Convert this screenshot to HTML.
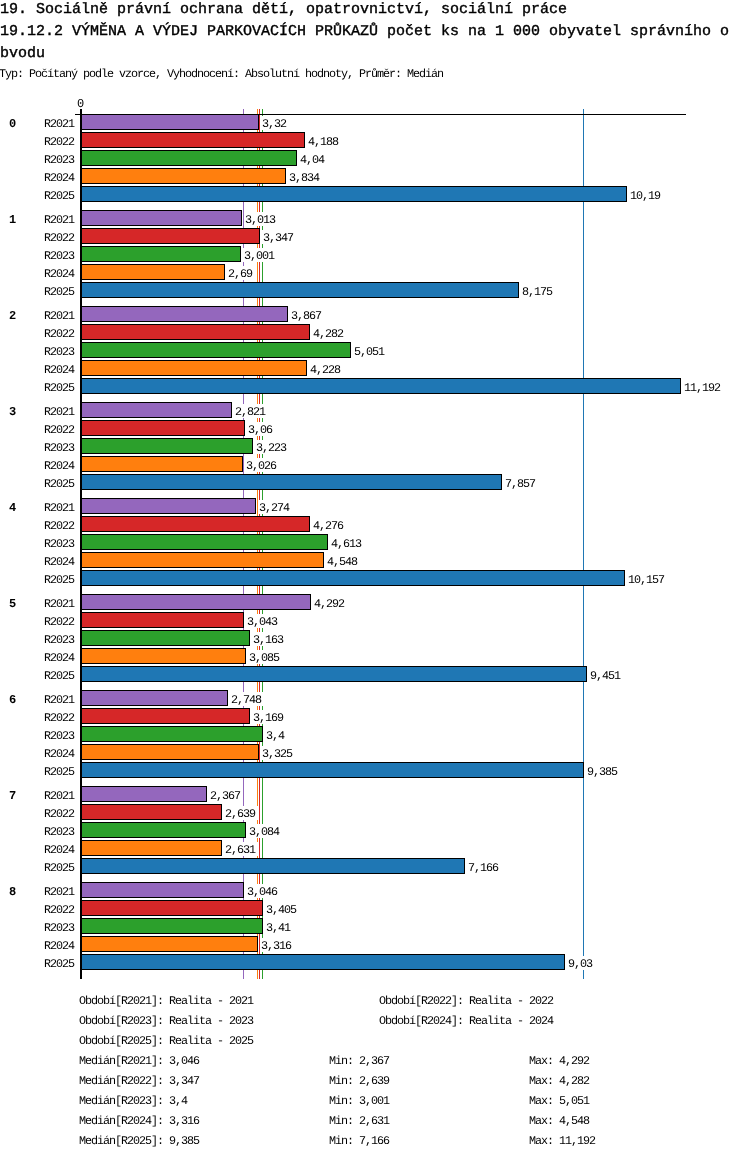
<!DOCTYPE html>
<html><head><meta charset="utf-8"><style>
html,body{margin:0;padding:0;background:#fff;text-rendering:geometricPrecision;}
body{width:750px;height:1158px;position:relative;overflow:hidden;}
.wrap{position:absolute;left:0;top:0;width:750px;height:1158px;will-change:transform;background:transparent;}
.title{position:absolute;left:0px;top:-1px;width:740px;white-space:nowrap;-webkit-text-stroke:0.4px #000;font:15px/22px "Liberation Mono",monospace;color:#000;word-break:break-all;}
.typ{position:absolute;left:-1px;top:68px;font:11.75px/12px "Liberation Mono",monospace;letter-spacing:-1.05px;color:#000;white-space:nowrap;}
svg{position:absolute;left:0;top:0;}
.g{position:absolute;left:9px;font:bold 12px/12px "Liberation Mono",monospace;}
.lab{position:absolute;left:44px;font:11.75px/12px "Liberation Mono",monospace;letter-spacing:-1.05px;white-space:nowrap;}
.val{position:absolute;background:#fff;font:11.75px/12px "Liberation Mono",monospace;letter-spacing:-1.05px;white-space:nowrap;}
.zero{position:absolute;left:77px;top:98px;font:12px/12px "Liberation Mono",monospace;}
.leg{position:absolute;font:11.75px/12px "Liberation Mono",monospace;letter-spacing:-1.05px;white-space:pre;}
</style></head><body><div class="wrap">
<div class="title">19. Sociálně právní ochrana dětí, opatrovnictví, sociální práce<br>19.12.2 VÝMĚNA A VÝDEJ PARKOVACÍCH PRŮKAZŮ počet ks na 1 000 obyvatel správního o<br>bvodu</div>
<div class="typ">Typ: Počítaný podle vzorce, Vyhodnocení: Absolutní hodnoty, Průměr: Medián</div>
<svg width="750" height="1158" shape-rendering="crispEdges"><rect x="243" y="109" width="1" height="870" fill="#9467bd"/><rect x="259" y="109" width="1" height="870" fill="#d62728"/><rect x="262" y="109" width="1" height="870" fill="#2ca02c"/><rect x="257" y="109" width="1" height="870" fill="#ff7f0e"/><rect x="583" y="109" width="1" height="870" fill="#1f77b4"/><rect x="75" y="114" width="611" height="1" fill="#000"/><rect x="80" y="114" width="179" height="16" fill="#000"/><rect x="81" y="115" width="177" height="14" fill="#9467bd"/><rect x="80" y="132" width="225" height="16" fill="#000"/><rect x="81" y="133" width="223" height="14" fill="#d62728"/><rect x="80" y="150" width="217" height="16" fill="#000"/><rect x="81" y="151" width="215" height="14" fill="#2ca02c"/><rect x="80" y="168" width="206" height="16" fill="#000"/><rect x="81" y="169" width="204" height="14" fill="#ff7f0e"/><rect x="80" y="186" width="547" height="16" fill="#000"/><rect x="81" y="187" width="545" height="14" fill="#1f77b4"/><rect x="80" y="210" width="162" height="16" fill="#000"/><rect x="81" y="211" width="160" height="14" fill="#9467bd"/><rect x="80" y="228" width="180" height="16" fill="#000"/><rect x="81" y="229" width="178" height="14" fill="#d62728"/><rect x="80" y="246" width="161" height="16" fill="#000"/><rect x="81" y="247" width="159" height="14" fill="#2ca02c"/><rect x="80" y="264" width="145" height="16" fill="#000"/><rect x="81" y="265" width="143" height="14" fill="#ff7f0e"/><rect x="80" y="282" width="439" height="16" fill="#000"/><rect x="81" y="283" width="437" height="14" fill="#1f77b4"/><rect x="80" y="306" width="208" height="16" fill="#000"/><rect x="81" y="307" width="206" height="14" fill="#9467bd"/><rect x="80" y="324" width="230" height="16" fill="#000"/><rect x="81" y="325" width="228" height="14" fill="#d62728"/><rect x="80" y="342" width="271" height="16" fill="#000"/><rect x="81" y="343" width="269" height="14" fill="#2ca02c"/><rect x="80" y="360" width="227" height="16" fill="#000"/><rect x="81" y="361" width="225" height="14" fill="#ff7f0e"/><rect x="80" y="378" width="601" height="16" fill="#000"/><rect x="81" y="379" width="599" height="14" fill="#1f77b4"/><rect x="80" y="402" width="152" height="16" fill="#000"/><rect x="81" y="403" width="150" height="14" fill="#9467bd"/><rect x="80" y="420" width="165" height="16" fill="#000"/><rect x="81" y="421" width="163" height="14" fill="#d62728"/><rect x="80" y="438" width="173" height="16" fill="#000"/><rect x="81" y="439" width="171" height="14" fill="#2ca02c"/><rect x="80" y="456" width="163" height="16" fill="#000"/><rect x="81" y="457" width="161" height="14" fill="#ff7f0e"/><rect x="80" y="474" width="422" height="16" fill="#000"/><rect x="81" y="475" width="420" height="14" fill="#1f77b4"/><rect x="80" y="498" width="176" height="16" fill="#000"/><rect x="81" y="499" width="174" height="14" fill="#9467bd"/><rect x="80" y="516" width="230" height="16" fill="#000"/><rect x="81" y="517" width="228" height="14" fill="#d62728"/><rect x="80" y="534" width="248" height="16" fill="#000"/><rect x="81" y="535" width="246" height="14" fill="#2ca02c"/><rect x="80" y="552" width="244" height="16" fill="#000"/><rect x="81" y="553" width="242" height="14" fill="#ff7f0e"/><rect x="80" y="570" width="545" height="16" fill="#000"/><rect x="81" y="571" width="543" height="14" fill="#1f77b4"/><rect x="80" y="594" width="231" height="16" fill="#000"/><rect x="81" y="595" width="229" height="14" fill="#9467bd"/><rect x="80" y="612" width="164" height="16" fill="#000"/><rect x="81" y="613" width="162" height="14" fill="#d62728"/><rect x="80" y="630" width="170" height="16" fill="#000"/><rect x="81" y="631" width="168" height="14" fill="#2ca02c"/><rect x="80" y="648" width="166" height="16" fill="#000"/><rect x="81" y="649" width="164" height="14" fill="#ff7f0e"/><rect x="80" y="666" width="507" height="16" fill="#000"/><rect x="81" y="667" width="505" height="14" fill="#1f77b4"/><rect x="80" y="690" width="148" height="16" fill="#000"/><rect x="81" y="691" width="146" height="14" fill="#9467bd"/><rect x="80" y="708" width="170" height="16" fill="#000"/><rect x="81" y="709" width="168" height="14" fill="#d62728"/><rect x="80" y="726" width="183" height="16" fill="#000"/><rect x="81" y="727" width="181" height="14" fill="#2ca02c"/><rect x="80" y="744" width="179" height="16" fill="#000"/><rect x="81" y="745" width="177" height="14" fill="#ff7f0e"/><rect x="80" y="762" width="504" height="16" fill="#000"/><rect x="81" y="763" width="502" height="14" fill="#1f77b4"/><rect x="80" y="786" width="127" height="16" fill="#000"/><rect x="81" y="787" width="125" height="14" fill="#9467bd"/><rect x="80" y="804" width="142" height="16" fill="#000"/><rect x="81" y="805" width="140" height="14" fill="#d62728"/><rect x="80" y="822" width="166" height="16" fill="#000"/><rect x="81" y="823" width="164" height="14" fill="#2ca02c"/><rect x="80" y="840" width="142" height="16" fill="#000"/><rect x="81" y="841" width="140" height="14" fill="#ff7f0e"/><rect x="80" y="858" width="385" height="16" fill="#000"/><rect x="81" y="859" width="383" height="14" fill="#1f77b4"/><rect x="80" y="882" width="164" height="16" fill="#000"/><rect x="81" y="883" width="162" height="14" fill="#9467bd"/><rect x="80" y="900" width="183" height="16" fill="#000"/><rect x="81" y="901" width="181" height="14" fill="#d62728"/><rect x="80" y="918" width="183" height="16" fill="#000"/><rect x="81" y="919" width="181" height="14" fill="#2ca02c"/><rect x="80" y="936" width="178" height="16" fill="#000"/><rect x="81" y="937" width="176" height="14" fill="#ff7f0e"/><rect x="80" y="954" width="485" height="16" fill="#000"/><rect x="81" y="955" width="483" height="14" fill="#1f77b4"/><rect x="80" y="109" width="2" height="870" fill="#000"/></svg>
<div class="zero">0</div>
<div class="g" style="top:118px">0</div><div class="lab" style="top:118px">R2021</div><div class="val" style="top:116px;left:261px;padding:2px 3px 0 1px;height:12px">3,32</div><div class="lab" style="top:136px">R2022</div><div class="val" style="top:134px;left:307px;padding:2px 3px 0 1px;height:12px">4,188</div><div class="lab" style="top:154px">R2023</div><div class="val" style="top:152px;left:299px;padding:2px 3px 0 1px;height:12px">4,04</div><div class="lab" style="top:172px">R2024</div><div class="val" style="top:170px;left:288px;padding:2px 3px 0 1px;height:12px">3,834</div><div class="lab" style="top:190px">R2025</div><div class="val" style="top:188px;left:629px;padding:2px 3px 0 1px;height:12px">10,19</div><div class="g" style="top:214px">1</div><div class="lab" style="top:214px">R2021</div><div class="val" style="top:212px;left:244px;padding:2px 3px 0 1px;height:12px">3,013</div><div class="lab" style="top:232px">R2022</div><div class="val" style="top:230px;left:262px;padding:2px 3px 0 1px;height:12px">3,347</div><div class="lab" style="top:250px">R2023</div><div class="val" style="top:248px;left:243px;padding:2px 3px 0 1px;height:12px">3,001</div><div class="lab" style="top:268px">R2024</div><div class="val" style="top:266px;left:227px;padding:2px 3px 0 1px;height:12px">2,69</div><div class="lab" style="top:286px">R2025</div><div class="val" style="top:284px;left:521px;padding:2px 3px 0 1px;height:12px">8,175</div><div class="g" style="top:310px">2</div><div class="lab" style="top:310px">R2021</div><div class="val" style="top:308px;left:290px;padding:2px 3px 0 1px;height:12px">3,867</div><div class="lab" style="top:328px">R2022</div><div class="val" style="top:326px;left:312px;padding:2px 3px 0 1px;height:12px">4,282</div><div class="lab" style="top:346px">R2023</div><div class="val" style="top:344px;left:353px;padding:2px 3px 0 1px;height:12px">5,051</div><div class="lab" style="top:364px">R2024</div><div class="val" style="top:362px;left:309px;padding:2px 3px 0 1px;height:12px">4,228</div><div class="lab" style="top:382px">R2025</div><div class="val" style="top:380px;left:683px;padding:2px 3px 0 1px;height:12px">11,192</div><div class="g" style="top:406px">3</div><div class="lab" style="top:406px">R2021</div><div class="val" style="top:404px;left:234px;padding:2px 3px 0 1px;height:12px">2,821</div><div class="lab" style="top:424px">R2022</div><div class="val" style="top:422px;left:247px;padding:2px 3px 0 1px;height:12px">3,06</div><div class="lab" style="top:442px">R2023</div><div class="val" style="top:440px;left:255px;padding:2px 3px 0 1px;height:12px">3,223</div><div class="lab" style="top:460px">R2024</div><div class="val" style="top:458px;left:245px;padding:2px 3px 0 1px;height:12px">3,026</div><div class="lab" style="top:478px">R2025</div><div class="val" style="top:476px;left:504px;padding:2px 3px 0 1px;height:12px">7,857</div><div class="g" style="top:502px">4</div><div class="lab" style="top:502px">R2021</div><div class="val" style="top:500px;left:258px;padding:2px 3px 0 1px;height:12px">3,274</div><div class="lab" style="top:520px">R2022</div><div class="val" style="top:518px;left:312px;padding:2px 3px 0 1px;height:12px">4,276</div><div class="lab" style="top:538px">R2023</div><div class="val" style="top:536px;left:330px;padding:2px 3px 0 1px;height:12px">4,613</div><div class="lab" style="top:556px">R2024</div><div class="val" style="top:554px;left:326px;padding:2px 3px 0 1px;height:12px">4,548</div><div class="lab" style="top:574px">R2025</div><div class="val" style="top:572px;left:627px;padding:2px 3px 0 1px;height:12px">10,157</div><div class="g" style="top:598px">5</div><div class="lab" style="top:598px">R2021</div><div class="val" style="top:596px;left:313px;padding:2px 3px 0 1px;height:12px">4,292</div><div class="lab" style="top:616px">R2022</div><div class="val" style="top:614px;left:246px;padding:2px 3px 0 1px;height:12px">3,043</div><div class="lab" style="top:634px">R2023</div><div class="val" style="top:632px;left:252px;padding:2px 3px 0 1px;height:12px">3,163</div><div class="lab" style="top:652px">R2024</div><div class="val" style="top:650px;left:248px;padding:2px 3px 0 1px;height:12px">3,085</div><div class="lab" style="top:670px">R2025</div><div class="val" style="top:668px;left:589px;padding:2px 3px 0 1px;height:12px">9,451</div><div class="g" style="top:694px">6</div><div class="lab" style="top:694px">R2021</div><div class="val" style="top:692px;left:230px;padding:2px 3px 0 1px;height:12px">2,748</div><div class="lab" style="top:712px">R2022</div><div class="val" style="top:710px;left:252px;padding:2px 3px 0 1px;height:12px">3,169</div><div class="lab" style="top:730px">R2023</div><div class="val" style="top:728px;left:265px;padding:2px 3px 0 1px;height:12px">3,4</div><div class="lab" style="top:748px">R2024</div><div class="val" style="top:746px;left:261px;padding:2px 3px 0 1px;height:12px">3,325</div><div class="lab" style="top:766px">R2025</div><div class="val" style="top:764px;left:586px;padding:2px 3px 0 1px;height:12px">9,385</div><div class="g" style="top:790px">7</div><div class="lab" style="top:790px">R2021</div><div class="val" style="top:788px;left:209px;padding:2px 3px 0 1px;height:12px">2,367</div><div class="lab" style="top:808px">R2022</div><div class="val" style="top:806px;left:224px;padding:2px 3px 0 1px;height:12px">2,639</div><div class="lab" style="top:826px">R2023</div><div class="val" style="top:824px;left:248px;padding:2px 3px 0 1px;height:12px">3,084</div><div class="lab" style="top:844px">R2024</div><div class="val" style="top:842px;left:224px;padding:2px 3px 0 1px;height:12px">2,631</div><div class="lab" style="top:862px">R2025</div><div class="val" style="top:860px;left:467px;padding:2px 3px 0 1px;height:12px">7,166</div><div class="g" style="top:886px">8</div><div class="lab" style="top:886px">R2021</div><div class="val" style="top:884px;left:246px;padding:2px 3px 0 1px;height:12px">3,046</div><div class="lab" style="top:904px">R2022</div><div class="val" style="top:902px;left:265px;padding:2px 3px 0 1px;height:12px">3,405</div><div class="lab" style="top:922px">R2023</div><div class="val" style="top:920px;left:265px;padding:2px 3px 0 1px;height:12px">3,41</div><div class="lab" style="top:940px">R2024</div><div class="val" style="top:938px;left:260px;padding:2px 3px 0 1px;height:12px">3,316</div><div class="lab" style="top:958px">R2025</div><div class="val" style="top:956px;left:567px;padding:2px 3px 0 1px;height:12px">9,03</div>
<div class="leg" style="left:79px;top:995px">Období[R2021]: Realita - 2021</div><div class="leg" style="left:379px;top:995px">Období[R2022]: Realita - 2022</div><div class="leg" style="left:79px;top:1015px">Období[R2023]: Realita - 2023</div><div class="leg" style="left:379px;top:1015px">Období[R2024]: Realita - 2024</div><div class="leg" style="left:79px;top:1035px">Období[R2025]: Realita - 2025</div><div class="leg" style="left:79px;top:1055px">Medián[R2021]: 3,046</div><div class="leg" style="left:329px;top:1055px">Min: 2,367</div><div class="leg" style="left:529px;top:1055px">Max: 4,292</div><div class="leg" style="left:79px;top:1075px">Medián[R2022]: 3,347</div><div class="leg" style="left:329px;top:1075px">Min: 2,639</div><div class="leg" style="left:529px;top:1075px">Max: 4,282</div><div class="leg" style="left:79px;top:1095px">Medián[R2023]: 3,4</div><div class="leg" style="left:329px;top:1095px">Min: 3,001</div><div class="leg" style="left:529px;top:1095px">Max: 5,051</div><div class="leg" style="left:79px;top:1115px">Medián[R2024]: 3,316</div><div class="leg" style="left:329px;top:1115px">Min: 2,631</div><div class="leg" style="left:529px;top:1115px">Max: 4,548</div><div class="leg" style="left:79px;top:1135px">Medián[R2025]: 9,385</div><div class="leg" style="left:329px;top:1135px">Min: 7,166</div><div class="leg" style="left:529px;top:1135px">Max: 11,192</div>
</div></body></html>
